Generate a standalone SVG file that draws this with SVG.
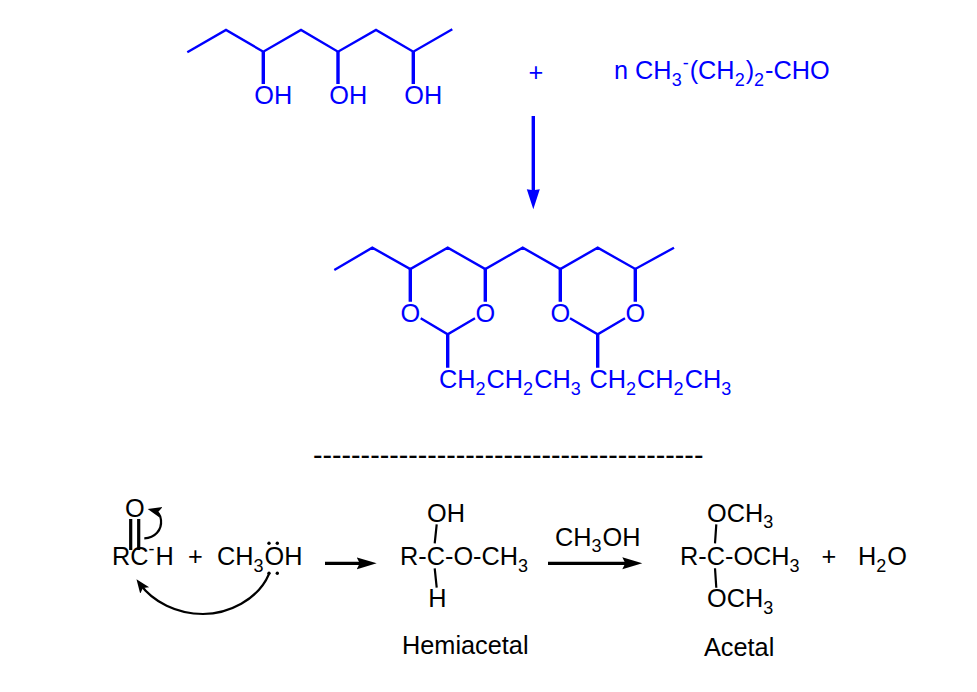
<svg xmlns="http://www.w3.org/2000/svg" width="977" height="692" viewBox="0 0 977 692">
<style>
text{font-family:"Liberation Sans",Arial,sans-serif;font-size:25.3px;fill:#000}
.s{font-size:18px;letter-spacing:1px}
.b text,text.b{fill:#0000ff}
.bl{fill:none;stroke:#0000ff;stroke-width:2.4}
.bt{fill:none;stroke:#0000ff;stroke-width:3.4}
.k{fill:none;stroke:#000;stroke-width:2.2}
.kt{fill:none;stroke:#000;stroke-width:3.2}
</style>
<defs>
<marker id="hb" markerUnits="userSpaceOnUse" markerWidth="22" markerHeight="14" refX="10" refY="6.5" orient="auto"><path d="M0 0L20 6.5L0 13L1 6.5Z" fill="#0000ff"/></marker>
<marker id="hk" markerUnits="userSpaceOnUse" markerWidth="22" markerHeight="14" refX="10" refY="6" orient="auto"><path d="M0 0L20 6L0 12L3 6Z" fill="#000"/></marker>
<marker id="hc" markerUnits="userSpaceOnUse" markerWidth="16" markerHeight="14" refX="8" refY="5.5" orient="auto"><path d="M0 0L14 5.5L0 11L3 5.5Z" fill="#000"/></marker>
</defs>
<rect width="977" height="692" fill="#fff"/>
<g id="polyvinyl-alcohol" class="b">
<path class="bl" d="M187.3 52.3L226 30L263.3 51.7L301 30L338 51.7L376 30L413.3 51.7L452.3 29.3"/>
<path class="bt" d="M263.3 51.7V84M338 51.7V84M413.3 51.7V84"/>
<text x="254.3" y="104">OH</text><text x="329.3" y="104">OH</text><text x="404.3" y="104">OH</text>
</g>
<g id="plus-top" class="b"><text x="528.5" y="81">+</text></g>
<g id="butyraldehyde" class="b"><text x="614" y="79">n CH<tspan class="s" dy="6.5">3</tspan><tspan class="s" dy="-17">-</tspan><tspan dy="10.5">(CH</tspan><tspan class="s" dy="6.5">2</tspan><tspan dy="-6.5">)</tspan><tspan class="s" dy="6.5">2</tspan><tspan dy="-6.5">-CHO</tspan></text></g>
<g id="connectors">
<path class="bt" marker-end="url(#hb)" d="M533.3 116V199.3"/>
<path class="kt" marker-end="url(#hk)" d="M325 563.3H366.7"/>
<path class="kt" marker-end="url(#hk)" d="M548 563.3H632.3"/>
<path class="k" marker-end="url(#hc)" d="M144.3 538.3C155 538 162 530 161 520C160.5 514 157.5 511.5 153.5 510.5"/>
<path class="k" marker-end="url(#hc)" d="M269 574C258 600 228 614 203 614C177 614 153 602 140 584"/>
</g>
<g id="polyvinyl-butyral" class="b">
<path class="bl" d="M334.3 270L372.3 247.7L410.3 269L447.7 247.7L485.3 269L522.7 247.7L560.3 269L597.7 247.7L635.3 269L674 247.7"/>
<path class="bl" d="M420.7 318.3L447.7 334.3L475 318.3M570 318.3L597.7 334.3L625 318.3"/>
<path class="bt" d="M410.3 269V301.7M485.3 269V301.7M560.3 269V301.7M635.3 269V301.7M447.7 334.3V367.7M597.7 334.3V367.7"/>
<text x="400.6" y="322.3">O</text><text x="475.6" y="322.3">O</text><text x="550.6" y="322.3">O</text><text x="625.6" y="322.3">O</text>
<text x="439" y="388">CH<tspan class="s" dy="6.5">2</tspan><tspan dy="-6.5">CH</tspan><tspan class="s" dy="6.5">2</tspan><tspan dy="-6.5">CH</tspan><tspan class="s" dy="6.5">3</tspan></text>
<text x="589.5" y="388">CH<tspan class="s" dy="6.5">2</tspan><tspan dy="-6.5">CH</tspan><tspan class="s" dy="6.5">2</tspan><tspan dy="-6.5">CH</tspan><tspan class="s" dy="6.5">3</tspan></text>
</g>
<text id="separator" x="313" y="464.5" style="font-size:28.6px">-----------------------------------------</text>
<g id="aldehyde">
<text x="125" y="517">O</text>
<path class="kt" d="M130.7 519V550M138.7 519V550"/>
<text x="112" y="565">RC<tspan class="s" dy="-10">-</tspan><tspan dy="10">H</tspan></text>
</g>
<g id="plus-1"><text x="188" y="565">+</text></g>
<g id="methanol">
<text x="217" y="565">CH<tspan class="s" dy="6.5">3</tspan><tspan dy="-6.5">OH</tspan></text>
<circle cx="269" cy="543.3" r="1.7"/><circle cx="277.3" cy="543.3" r="1.7"/><circle cx="269" cy="573.3" r="1.7"/><circle cx="277.3" cy="573.3" r="1.7"/>
</g>
<g id="hemiacetal">
<text x="427" y="521.7">OH</text>
<path class="k" d="M436.7 524.3L434.7 543.3M434.7 568.3L436.7 587.7"/>
<text x="400" y="565">R-C-O-CH<tspan class="s" dy="6.5">3</tspan></text>
<text x="428.3" y="607.3">H</text>
<text x="402" y="653.5">Hemiacetal</text>
</g>
<g id="reagent"><text x="555" y="545.7">CH<tspan class="s" dy="6.5">3</tspan><tspan dy="-6.5">OH</tspan></text></g>
<g id="acetal">
<text x="707" y="521.7">OCH<tspan class="s" dy="6.5">3</tspan></text>
<path class="k" d="M716.3 524.3L715 543.3M715 568.3L716.3 587.7"/>
<text x="680" y="565">R-C-OCH<tspan class="s" dy="6.5">3</tspan></text>
<text x="707" y="607.3">OCH<tspan class="s" dy="6.5">3</tspan></text>
<text x="704" y="655.7">Acetal</text>
</g>
<g id="plus-2"><text x="821.5" y="565">+</text></g>
<g id="water"><text x="858" y="565">H<tspan class="s" dy="6.5">2</tspan><tspan dy="-6.5">O</tspan></text></g>
</svg>
